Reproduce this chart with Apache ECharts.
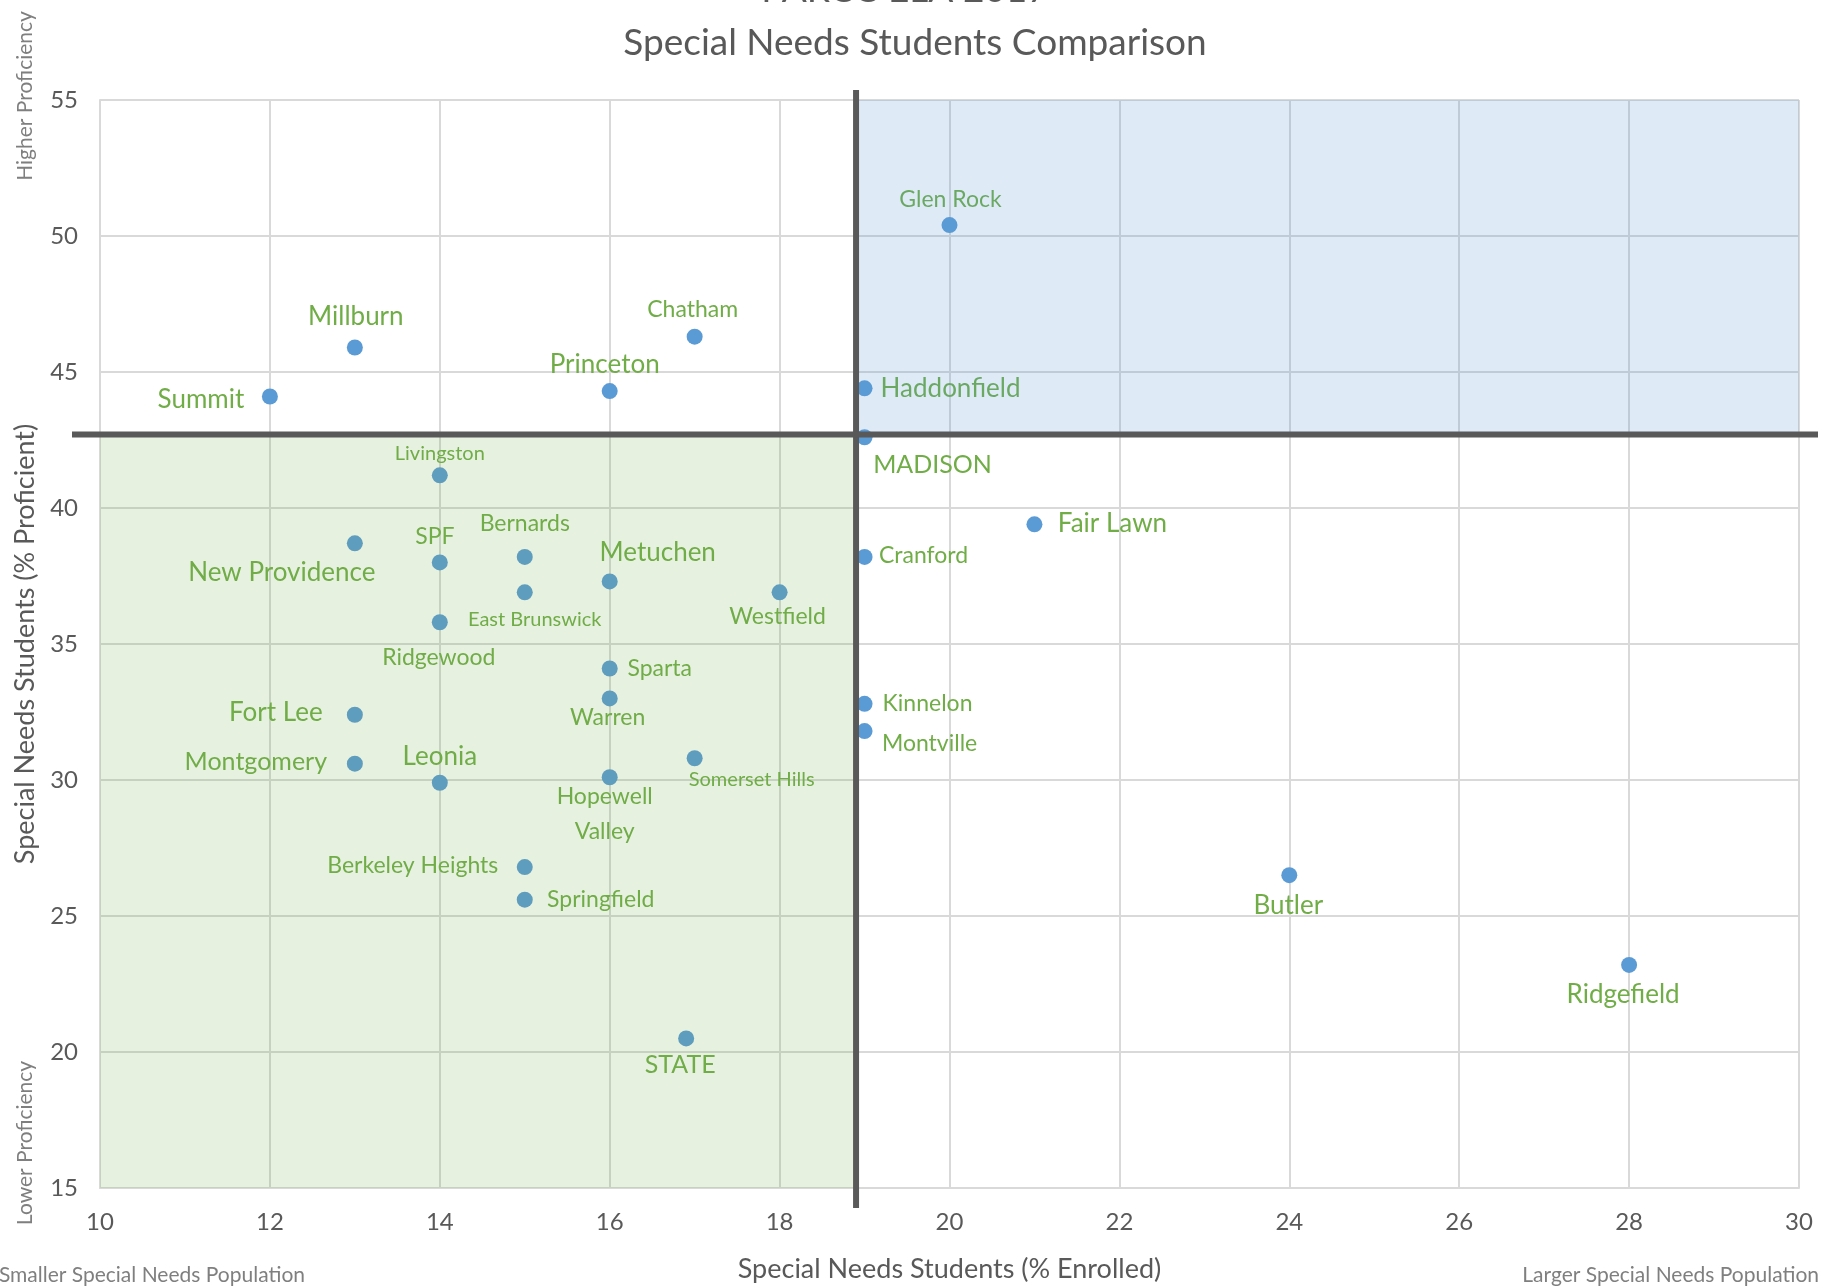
<!DOCTYPE html>
<html>
<head>
<meta charset="utf-8">
<title>Special Needs Students Comparison</title>
<script src="https://cdn.jsdelivr.net/npm/echarts@6/dist/echarts.min.js"></script>
<style>
  html, body { margin: 0; padding: 0; background: #fff; }
  #chart { width: 1825px; height: 1288px; }
</style>
</head>
<body>
<div id="chart"></div>
<script>
// districts with % enrolled special needs (x) and % proficient special needs (y)
const districts = [
  'Glen Rock', 'Millburn', 'Chatham', 'Summit', 'Princeton', 'Haddonfield', 'MADISON',
  'Livingston', 'New Providence', 'SPF', 'Bernards', 'Metuchen', 'East Brunswick', 'Westfield',
  'Ridgewood', 'Sparta', 'Warren', 'Fort Lee', 'Montgomery', 'Leonia', 'Somerset Hills',
  'Hopewell Valley', 'Berkeley Heights', 'Springfield', 'STATE', 'Fair Lawn', 'Cranford',
  'Kinnelon', 'Montville', 'Butler', 'Ridgefield'
]
const enrolled = [
  20, 13, 17, 12, 16, 19, 19,
  14, 13, 14, 15, 16, 15, 18,
  14, 16, 16, 13, 13, 14, 17,
  16, 15, 15, 16.9, 21, 19,
  19, 19, 24, 28
]
const proficient = [
  50.4, 45.9, 46.3, 44.1, 44.3, 44.4, 42.6,
  41.2, 38.7, 38.0, 38.2, 37.3, 36.9, 36.9,
  35.8, 34.1, 33.0, 32.4, 30.6, 29.9, 30.8,
  30.1, 26.8, 25.6, 20.5, 39.4, 38.2,
  32.8, 31.8, 26.5, 23.2
]
const xTicks = [10, 30, 2]   // min, max, step
const yTicks = [15, 55, 5]
const quadrantSplit = [18.9, 42.7]

// label placement: [dx, dy, fontSize]
const labelPlace = {
  'Glen Rock': [1, -26, 23], 'Millburn': [1, -31, 26], 'Chatham': [-2, -27, 23],
  'Summit': [-69, 3, 26], 'Princeton': [-5, -26, 26], 'Haddonfield': [86, 0, 26],
  'MADISON': [68, 28, 25], 'Livingston': [0, -22, 20], 'New Providence': [-73, 29, 26],
  'SPF': [-5, -26, 23], 'Bernards': [0, -33, 23], 'Metuchen': [48, -29, 26],
  'East Brunswick': [10, 27, 20], 'Westfield': [-2, 24, 23], 'Ridgewood': [-1, 35, 23],
  'Sparta': [50, 0, 23], 'Warren': [-2, 19, 23], 'Fort Lee': [-79, -2, 26],
  'Montgomery': [-99, -2, 25], 'Leonia': [0, -26, 26], 'Somerset Hills': [57, 21, 20],
  'Hopewell Valley': [-5, 37, 23], 'Berkeley Heights': [-112, -1, 23], 'Springfield': [76, 0, 23],
  'STATE': [-6, 27, 25], 'Fair Lawn': [78, -1, 26], 'Cranford': [59, -1, 23],
  'Kinnelon': [63, 0, 23], 'Montville': [65, 13, 23], 'Butler': [-1, 30, 26],
  'Ridgefield': [-6, 30, 26]
}

const FONT = 'Lato, "Open Sans", sans-serif'
const chart = echarts.init(document.getElementById('chart'))

const points = districts.map((name, i) => {
  const p = labelPlace[name]
  return {
    name,
    value: [enrolled[i], proficient[i]],
    label: {
      offset: [p[0], p[1]],
      fontSize: p[2],
      formatter: name === 'Hopewell Valley' ? 'Hopewell\nValley' : '{b}'
    }
  }
})

const option = {
  animation: false,
  backgroundColor: '#fff',
  textStyle: { fontFamily: FONT },
  title: {
    text: 'Special Needs Students Comparison',
    left: 910,
    textAlign: 'center',
    top: 20,
    textStyle: { fontFamily: FONT, fontSize: 37, fontWeight: 'normal', color: '#595959' }
  },
  grid: { left: 100, right: 26, top: 100, bottom: 94 },
  xAxis: {
    type: 'value',
    min: xTicks[0], max: xTicks[1], interval: xTicks[2],
    name: 'Special Needs Students (% Enrolled)',
    nameLocation: 'middle',
    nameGap: 68,
    nameTextStyle: { fontSize: 27, color: '#595959', fontFamily: FONT },
    axisLine: { show: true, lineStyle: { color: '#d9d9d9', width: 2 } },
    axisTick: { show: false },
    axisLabel: { fontSize: 24, color: '#595959', margin: 22, fontFamily: FONT },
    splitLine: { show: true, lineStyle: { color: '#d9d9d9', width: 2 } }
  },
  yAxis: {
    type: 'value',
    min: yTicks[0], max: yTicks[1], interval: yTicks[2],
    name: 'Special Needs Students (% Proficient)',
    nameLocation: 'middle',
    nameGap: 60,
    nameTextStyle: { fontSize: 27, color: '#595959', fontFamily: FONT },
    axisLine: { show: true, lineStyle: { color: '#d9d9d9', width: 2 } },
    axisTick: { show: false },
    axisLabel: { fontSize: 24, color: '#595959', margin: 22, fontFamily: FONT },
    splitLine: { show: true, lineStyle: { color: '#d9d9d9', width: 2 } }
  },
  series: [
    {
      type: 'scatter',
      symbolSize: 16,
      itemStyle: { color: '#5B9BD5', opacity: 1 },
      label: {
        show: true,
        position: 'inside',
        color: '#70AD47',
        fontFamily: FONT,
        lineHeight: 35
      },
      emphasis: { disabled: true },
      data: points,
      markArea: {
        silent: true,
        z: 3,
        data: [
          [
            { coord: [xTicks[0], yTicks[0]], itemStyle: { color: 'rgba(112,173,71,0.17)' } },
            { coord: quadrantSplit }
          ],
          [
            { coord: quadrantSplit, itemStyle: { color: 'rgba(91,155,213,0.2)' } },
            { coord: [xTicks[1], yTicks[1]] }
          ]
        ]
      }
    }
  ],
  graphic: [
    {
      id: 'topTitle', type: 'text', x: 905, y: -10,
      style: { text: 'PARCC ELA 2017', font: '37px ' + FONT, fill: '#595959', textAlign: 'center', textVerticalAlign: 'middle' }
    },
    {
      id: 'higher', type: 'text', x: 25, y: 96, rotation: Math.PI / 2,
      style: { text: 'Higher Proficiency', font: '21px ' + FONT, fill: '#7f7f7f', textAlign: 'center', textVerticalAlign: 'middle' }
    },
    {
      id: 'lower', type: 'text', x: 25, y: 1143, rotation: Math.PI / 2,
      style: { text: 'Lower Proficiency', font: '21px ' + FONT, fill: '#7f7f7f', textAlign: 'center', textVerticalAlign: 'middle' }
    },
    {
      id: 'smaller', type: 'text', x: 305, y: 1275,
      style: { text: 'Smaller Special Needs Population', font: '21px ' + FONT, fill: '#7f7f7f', textAlign: 'right', textVerticalAlign: 'middle' }
    },
    {
      id: 'larger', type: 'text', x: 1819, y: 1275,
      style: { text: 'Larger Special Needs Population', font: '21px ' + FONT, fill: '#7f7f7f', textAlign: 'right', textVerticalAlign: 'middle' }
    }
  ]
}

chart.setOption(option)

// quadrant divider lines, run a little past the plot edges like the original
const split = chart.convertToPixel({ gridIndex: 0 }, quadrantSplit)
const topLeft = chart.convertToPixel({ gridIndex: 0 }, [xTicks[0], yTicks[1]])
const bottomRight = chart.convertToPixel({ gridIndex: 0 }, [xTicks[1], yTicks[0]])
const dividerStyle = { stroke: '#595959', lineWidth: 6 }

chart.setOption({
  graphic: [
    {
      id: 'vDivider', type: 'line', z: 10,
      shape: { x1: split[0], y1: topLeft[1] - 10, x2: split[0], y2: bottomRight[1] + 20 },
      style: dividerStyle
    },
    {
      id: 'hDivider', type: 'line', z: 10,
      shape: { x1: topLeft[0] - 28, y1: split[1], x2: bottomRight[0] + 19, y2: split[1] },
      style: dividerStyle
    }
  ]
})

window.addEventListener('resize', () => chart.resize())
</script>
</body>
</html>
